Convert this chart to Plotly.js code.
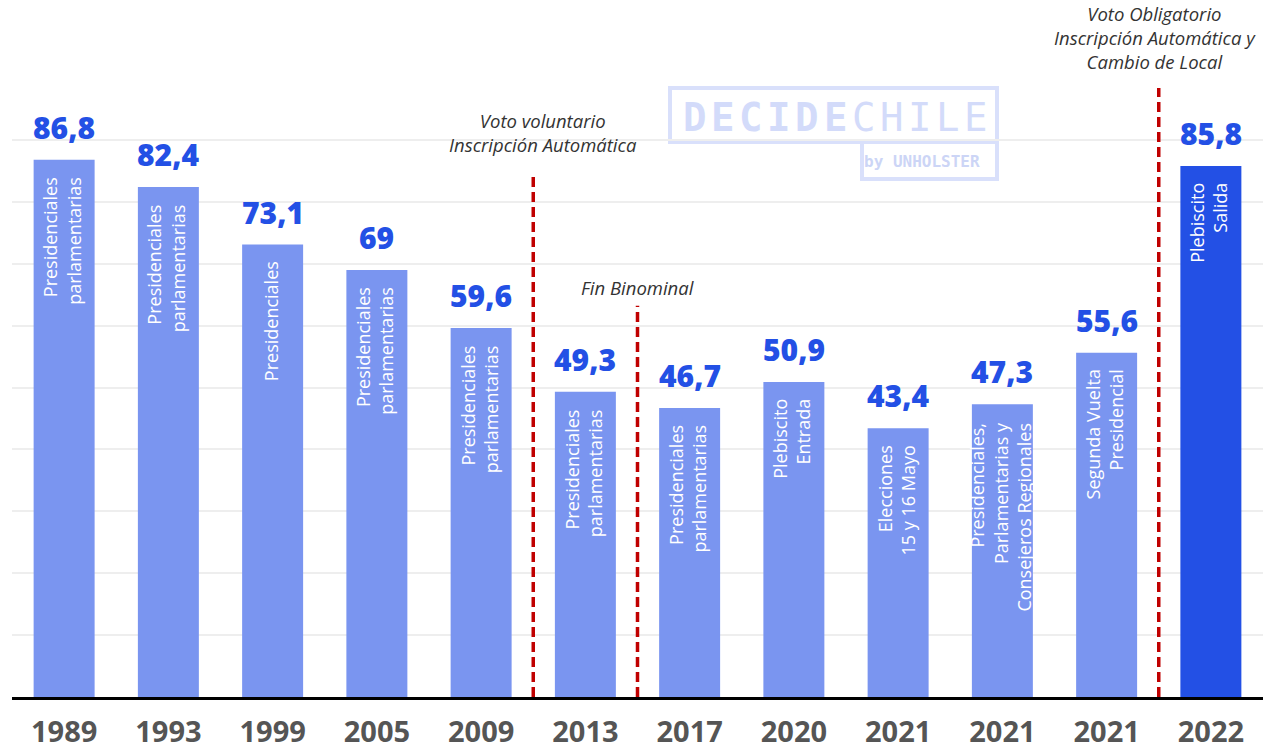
<!DOCTYPE html>
<html>
<head>
<meta charset="utf-8">
<script src="https://cdn.plot.ly/plotly-3.0.1.min.js"></script>
<style>
  html, body { margin: 0; padding: 0; background: #fff; }
  #chart { width: 1263px; height: 751px; }
</style>
</head>
<body>
<div id="chart"></div>
<script>
// ---- data ----
const years = ["1989","1993","1999","2005","2009","2013","2017","2020","2021","2021","2021","2022"];
const turnout = [86.8, 82.4, 73.1, 69, 59.6, 49.3, 46.7, 50.9, 43.4, 47.3, 55.6, 85.8];
const electionTypes = [
  "Presidenciales<br>parlamentarias",
  "Presidenciales<br>parlamentarias",
  "Presidenciales",
  "Presidenciales<br>parlamentarias",
  "Presidenciales<br>parlamentarias",
  "Presidenciales<br>parlamentarias",
  "Presidenciales<br>parlamentarias",
  "Plebiscito<br>Entrada",
  "Elecciones<br>15 y 16 Mayo",
  "Presidenciales,<br>Parlamentarias y<br>Consejeros Regionales",
  "Segunda Vuelta<br>Presidencial",
  "Plebiscito<br>Salida"
];
// regime changes: position between bars (index + 0.5), top of the line (value), label
const regimeAt = [4.5, 5.5, 10.5];
const regimeTop = [84.7, 63.2, 98.4];
const regimeLabels = [
  "Voto voluntario<br>Inscripción Automática",
  "Fin Binominal",
  "Voto Obligatorio<br>Inscripción Automática y<br>Cambio de Local"
];

// ---- style ----
const FONT = "Open Sans, Noto Sans, sans-serif";
const LIGHT = "#7a95f0";
const DARK = "#2350e5";
const LABEL_BLUE = "#2350e5";
const idx = years.map((_, i) => i);
const colors = idx.map(i => i === years.length - 1 ? DARK : LIGHT);

const trace = {
  type: "bar",
  x: idx,
  y: turnout,
  marker: { color: colors, line: { width: 0 } },
  hoverinfo: "skip",
  cliponaxis: false
};

const L = 12, T = 78, W = 1251, H = 619;
const px = v => (v - L) / W;
const py = v => (T + H - v) / H;

const annotations = [];
idx.forEach(i => {
  annotations.push({
    x: i, y: turnout[i], xref: "x", yref: "y",
    text: String(turnout[i]).replace(".", ","),
    showarrow: false, yanchor: "bottom", yshift: 10,
    font: { family: FONT, size: 30, color: LABEL_BLUE, weight: 800 }
  });
  annotations.push({
    x: i, y: turnout[i], xref: "x", yref: "y",
    text: electionTypes[i],
    showarrow: false, textangle: -90, yanchor: "top", xanchor: "center",
    yshift: -15, xshift: -2, align: "right",
    font: { family: FONT, size: 18, color: "#ffffff" }
  });
});

// regime labels (pixel-placed in paper coords)
const regimeLabelPx = [[543, 132], [637, 287], [1155, 37]];
regimeAt.forEach((x, k) => {
  annotations.push({
    x: px(regimeLabelPx[k][0]), y: py(regimeLabelPx[k][1]), xref: "paper", yref: "paper",
    text: "<i>" + regimeLabels[k] + "</i>",
    showarrow: false, xanchor: "center", yanchor: "middle",
    font: { family: FONT, size: 18.5, color: "#333333" }
  });
});

// red dashed lines
const shapes = regimeAt.map((x, k) => ({
  type: "line", xref: "x", yref: "y",
  x0: x, x1: x, y0: 0, y1: regimeTop[k],
  line: { color: "#c00000", width: 3.5, dash: "10px,5px" }
}));

// ---- watermark logo ----
const LOGO = "#d9e0fb";
shapes.push({ type: "rect", xref: "paper", yref: "paper",
  x0: px(670), x1: px(997), y0: py(88), y1: py(142),
  line: { color: LOGO, width: 4 }, fillcolor: "rgba(0,0,0,0)", layer: "below" });
shapes.push({ type: "rect", xref: "paper", yref: "paper",
  x0: px(862), x1: px(997), y0: py(142), y1: py(179),
  line: { color: LOGO, width: 4 }, fillcolor: "rgba(0,0,0,0)", layer: "below" });
const logoLetters = "DECIDECHILE".split("");
logoLetters.forEach((ch, i) => {
  annotations.push({
    xref: "paper", yref: "paper", x: px(694 + i * 28.2), y: py(117),
    text: ch, showarrow: false,
    xanchor: "center", yanchor: "middle",
    font: { family: "DejaVu Sans Mono, monospace", size: 39, color: "#d3dbfa",
            weight: i < 6 ? 700 : 400 }
  });
});
annotations.push({
  xref: "paper", yref: "paper", x: px(922), y: py(161),
  text: "by UNHOLSTER", showarrow: false,
  xanchor: "center", yanchor: "middle",
  font: { family: "DejaVu Sans Mono, monospace", size: 16, color: "#ccd5f6", weight: 700 }
});

const layout = {
  width: 1263, height: 751,
  margin: { l: L, r: 0, t: T, b: 751 - T - H },
  paper_bgcolor: "#ffffff", plot_bgcolor: "#ffffff",
  showlegend: false,
  bargap: 0.415,
  xaxis: {
    range: [-0.5, years.length - 0.5],
    tickmode: "array", tickvals: idx, ticktext: years,
    tickfont: { family: FONT, size: 29, color: "#555555", weight: 700 },
    ticks: "", ticklabelstandoff: 7,
    showgrid: false, zeroline: false,
    showline: true, linecolor: "#000000", linewidth: 3,
    fixedrange: true
  },
  yaxis: {
    range: [0, 100], dtick: 10,
    showticklabels: false, ticks: "",
    showgrid: true, gridcolor: "#eeeeee", gridwidth: 2,
    zeroline: false, fixedrange: true
  },
  annotations: annotations,
  shapes: shapes,
  font: { family: FONT }
};

Plotly.newPlot("chart", [trace], layout, { displayModeBar: false, staticPlot: true });
</script>
</body>
</html>
